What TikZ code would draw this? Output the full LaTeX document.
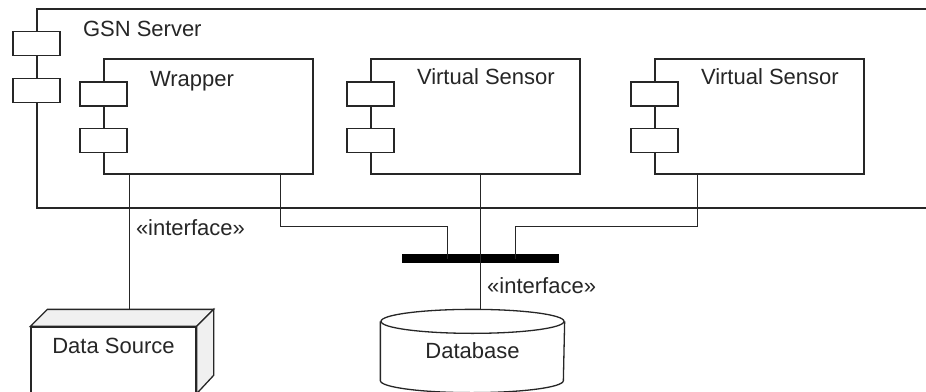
\documentclass[tikz,border=0pt]{standalone}
\usepackage{fontspec}
\setmainfont{Liberation Sans}
\usetikzlibrary{positioning}

\begin{document}
\begin{tikzpicture}[x=1pt, y=-1pt, line width=1.3pt, color=black!85, node distance=267pt]
    \tikzstyle{container} = [rectangle, draw, fill=white, inner sep=0pt]
    \tikzstyle{component} = [container, minimum width=209pt, minimum height=115pt]
    \tikzstyle{port} = [rectangle, draw, fill=white, minimum width=47pt, minimum height=24pt, inner sep=0pt]
    \tikzstyle{title} = [inner sep=0pt, font=\fontsize{22}{26}\selectfont]
    \tikzstyle{bus} = [rectangle, fill=black, minimum width=157pt, minimum height=9pt, inner sep=0pt]
    \tikzstyle{face} = [draw, fill=black!6]
    \tikzstyle{line} = [draw]

    \useasboundingbox (0,0) rectangle (926,391);
    \fill [white] (0,0) rectangle (926,391);
    \clip (0,0) rectangle (926,391);

    % server frame, open to the right
    \node [container, minimum width=943pt, minimum height=199pt] (gsn) at (508.5,108.5) {};
    \node [title, anchor=base west, xshift=46pt, yshift=-28pt] (gsnname) at (gsn.north west) {GSN Server};
    \node [port, yshift=-35pt] (gsnp1) at (gsn.north west) {};
    \node [port, yshift=-82pt] (gsnp2) at (gsn.north west) {};

    % components inside the server
    \node [component] (wrapper) at (208.5,116.5) {};
    \node [component, right of=wrapper] (vsa) {};
    \node [component, right of=vsa, xshift=17pt] (vsb) {};

    \node [title, anchor=base west, xshift=46pt, yshift=-28pt] (wrappername) at (wrapper.north west) {Wrapper};
    \node [title, anchor=base west, xshift=46pt, yshift=-26pt] (vsaname) at (vsa.north west) {Virtual Sensor};
    \node [title, anchor=base west, xshift=46pt, yshift=-26pt] (vsbname) at (vsb.north west) {Virtual Sensor};

    \node [port, yshift=-35.5pt] (wrapperp1) at (wrapper.north west) {};
    \node [port, yshift=-82pt] (wrapperp2) at (wrapper.north west) {};
    \node [port, yshift=-35.5pt] (vsap1) at (vsa.north west) {};
    \node [port, yshift=-82pt] (vsap2) at (vsa.north west) {};
    \node [port, yshift=-35.5pt] (vsbp1) at (vsb.north west) {};
    \node [port, yshift=-82pt] (vsbp2) at (vsb.north west) {};

    % data source as a 3d box
    \node [container, minimum width=165pt, minimum height=66pt] (ds) at (113.5,360) {};
    \path [face] (ds.north west) -- ++(17,-17) -- ([xshift=17pt, yshift=17pt]ds.north east) -- (ds.north east) -- cycle;
    \path [face] (ds.north east) -- ++(17,-17) -- ++(0,66) -- (ds.south east) -- cycle;
    \node [title, anchor=base, yshift=-27pt] (dsname) at (ds.north) {Data Source};

    % database cylinder
    \node [title, minimum width=183pt, minimum height=58pt] (db) at (472.5,351) {Database};
    \draw (db.north west) -- (db.south west) arc [start angle=180, end angle=360, x radius=91.5pt, y radius=12pt] -- (db.north east);
    \draw (db.north) ellipse [x radius=91.5pt, y radius=12pt];

    \node [bus] (bus) at (480.5,258.5) {};

    \coordinate (wrapperout) at ([xshift=26pt]wrapper.south west);
    \coordinate (wrapperbus) at ([xshift=177pt]wrapper.south west);
    \coordinate (vsbbus) at ([xshift=43pt]vsb.south west);
    \coordinate (busleft) at ([xshift=46pt]bus.west);
    \coordinate (busright) at ([xshift=-44pt]bus.east);
    \coordinate (dstop) at ([yshift=17pt]ds.north);
    \coordinate (dbtop) at ([yshift=12pt]db.north);

    \path [line] (wrapperout) -- (wrapperout |- dstop);
    \path [line] (wrapperbus) -- ++(0,52) -| (busleft);
    \path [line] (vsbbus) -- ++(0,52) -| (busright);
    \path [line] (vsa.south -| bus) -- (bus |- dbtop);

    \node [title, anchor=base west, xshift=6pt, yshift=-27pt] (wrappertag) at (wrapperout |- gsn.south) {«interface»};
    \node [title, anchor=base west, xshift=6pt, yshift=-30pt] (dbtag) at (bus.south) {«interface»};
\end{tikzpicture}
\end{document}
